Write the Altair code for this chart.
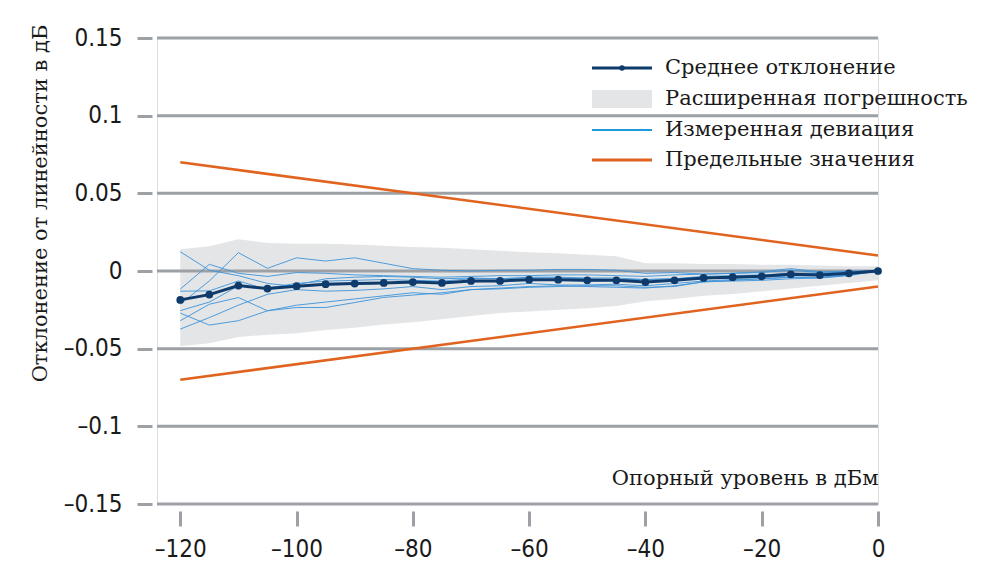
import altair as alt
import pandas as pd

# Reference levels in dBm
ref_level = [-120, -115, -110, -105, -100, -95, -90, -85, -80, -75, -70, -65,
             -60, -55, -50, -45, -40, -35, -30, -25, -20, -15, -10, -5, 0]

# Mean linearity deviation in dB
mean_dev = [-0.0186, -0.0152, -0.0094, -0.0113, -0.0098, -0.0085, -0.0081, -0.0077,
            -0.0071, -0.0077, -0.0064, -0.0064, -0.0056, -0.0056, -0.0060, -0.0060,
            -0.0071, -0.0060, -0.0045, -0.0040, -0.0034, -0.0021, -0.0026, -0.0015, 0.0]

# Expanded uncertainty band (upper / lower edge) in dB
band_hi = [0.0140, 0.0160, 0.0205, 0.0180, 0.0175, 0.0175, 0.0170, 0.0162,
           0.0155, 0.0150, 0.0140, 0.0130, 0.0120, 0.0115, 0.0105, 0.0095,
           0.0050, 0.0050, 0.0045, 0.0045, 0.0040, 0.0040, 0.0035, 0.0030, 0.0030]
band_lo = [-0.0485, -0.0465, -0.0425, -0.0410, -0.0400, -0.0380, -0.0365, -0.0345,
           -0.0330, -0.0310, -0.0290, -0.0270, -0.0260, -0.0250, -0.0240, -0.0225,
           -0.0195, -0.0180, -0.0160, -0.0148, -0.0130, -0.0112, -0.0095, -0.0078, -0.0060]

# Individual measured deviation runs in dB
run_1 = [0.0124, 0.0005, -0.0030, -0.0080, -0.0100, -0.0090, -0.0085, -0.0080, -0.0075,
         -0.0070, -0.0070, -0.0065, -0.0060, -0.0060, -0.0065, -0.0060, -0.0070, -0.0060,
         -0.0050, -0.0045, -0.0040, -0.0030, -0.0030, -0.0020, 0.0]
run_2 = [-0.0117, 0.0043, -0.0015, -0.0035, -0.0010, -0.0015, -0.0025, -0.0030, -0.0035,
         -0.0040, -0.0035, -0.0030, -0.0030, -0.0025, -0.0025, -0.0030, -0.0035, -0.0025,
         -0.0020, -0.0015, -0.0010, 0.0005, -0.0010, 0.0000, 0.0]
run_3 = [-0.0214, -0.0064, 0.0118, 0.0017, 0.0085, 0.0064, 0.0085, 0.0050, 0.0015,
         0.0005, 0.0000, 0.0005, 0.0005, 0.0010, 0.0010, 0.0005, -0.0015, -0.0010,
         -0.0020, -0.0015, -0.0005, 0.0015, -0.0005, -0.0005, 0.0]
run_4 = [-0.0271, -0.0348, -0.0320, -0.0256, -0.0235, -0.0235, -0.0203, -0.0170, -0.0155,
         -0.0140, -0.0120, -0.0115, -0.0105, -0.0100, -0.0095, -0.0095, -0.0105, -0.0100,
         -0.0070, -0.0065, -0.0060, -0.0050, -0.0045, -0.0030, 0.0]
run_5 = [-0.0374, -0.0300, -0.0220, -0.0150, -0.0120, -0.0130, -0.0125, -0.0115, -0.0100,
         -0.0120, -0.0100, -0.0095, -0.0080, -0.0090, -0.0090, -0.0085, -0.0095, -0.0080,
         -0.0065, -0.0055, -0.0050, -0.0040, -0.0040, -0.0025, 0.0]
run_6 = [-0.0320, -0.0214, -0.0171, -0.0256, -0.0220, -0.0200, -0.0180, -0.0160, -0.0140,
         -0.0150, -0.0120, -0.0110, -0.0100, -0.0095, -0.0100, -0.0105, -0.0110, -0.0095,
         -0.0070, -0.0060, -0.0050, -0.0040, -0.0045, -0.0025, 0.0]
run_7 = [-0.0130, -0.0128, -0.0064, -0.0120, -0.0090, -0.0050, -0.0040, -0.0035, -0.0040,
         -0.0050, -0.0045, -0.0050, -0.0045, -0.0045, -0.0050, -0.0055, -0.0055, -0.0050,
         -0.0040, -0.0035, -0.0030, -0.0015, -0.0020, -0.0010, 0.0]
run_8 = [-0.0255, -0.0200, -0.0096, -0.0110, -0.0080, -0.0065, -0.0060, -0.0055, -0.0060,
         -0.0065, -0.0050, -0.0050, -0.0040, -0.0040, -0.0045, -0.0045, -0.0055, -0.0050,
         -0.0035, -0.0030, -0.0025, -0.0015, -0.0015, -0.0005, 0.0]
runs = [run_1, run_2, run_3, run_4, run_5, run_6, run_7, run_8]

# Tolerance limits
limit_level = [-120, 0]
limit_hi = [0.07, 0.01]
limit_lo = [-0.07, -0.01]

y_ticks = [-0.15, -0.1, -0.05, 0, 0.05, 0.1, 0.15]
x_ticks = [-120, -100, -80, -60, -40, -20, 0]

legend_labels = ["Среднее отклонение", "Расширенная погрешность",
                 "Измеренная девиация", "Предельные значения"]

NAVY = "#0f3b6c"
BAND = "#e4e5e7"
BLUE = "#3d93d9"
ORANGE = "#e0631f"
GRID = "#9da0a5"
TEXT = "#1a1a1a"
SERIF = "DejaVu Serif"
SERIF_SIZE = 21
NARROW = "Liberation Sans Narrow, DejaVu Sans Condensed, Liberation Sans"

W, H = 721, 466

mean_df = pd.DataFrame({"level": ref_level, "dev": mean_dev})
band_df = pd.DataFrame({"level": ref_level, "lo": band_lo, "hi": band_hi})
runs_df = pd.DataFrame([
    {"run": i + 1, "level": lv, "dev": v}
    for i, r in enumerate(runs) for lv, v in zip(ref_level, r)
])
limits_df = pd.DataFrame(
    [{"side": "hi", "level": lv, "dev": v} for lv, v in zip(limit_level, limit_hi)]
    + [{"side": "lo", "level": lv, "dev": v} for lv, v in zip(limit_level, limit_lo)]
)
grid_df = pd.DataFrame({"dev": y_ticks})

x_scale = alt.Scale(domain=[-124, 0], nice=False, zero=False)
y_scale = alt.Scale(domain=[-0.15, 0.15], nice=False, zero=False)

x_axis = alt.Axis(
    values=x_ticks, domain=False, grid=False, ticks=True, tickSize=15, tickWidth=3,
    tickColor=GRID, offset=7, labelPadding=11, labelFont=NARROW, labelFontSize=24,
    labelColor=TEXT, labelFlush=False, labelOverlap=False,
    labelExpr="replace(toString(datum.value), '-', '–')",
    title="Опорный уровень в дБм", titleFont=SERIF, titleFontSize=SERIF_SIZE,
    titleFontWeight="normal", titleColor=TEXT, titleX=W, titleY=-33,
    titleAlign="right", titleBaseline="middle", titleAnchor="end",
)
y_axis = alt.Axis(
    values=y_ticks, domain=False, grid=False, ticks=True, tickSize=15, tickWidth=3,
    tickColor=GRID, offset=5, labelPadding=15, labelFont=NARROW, labelFontSize=24,
    labelColor=TEXT, labelFlush=False, labelOverlap=False,
    labelExpr="replace(toString(datum.value), '-', '–')",
    title="Отклонение от линейности в дБ", titleFont=SERIF, titleFontSize=SERIF_SIZE,
    titleFontWeight="normal", titleColor=TEXT, titleAngle=-90,
    titleX=-112, titleY=165, titleAlign="center", titleBaseline="middle",
)

X = alt.X("level:Q", scale=x_scale, axis=x_axis)
Y = alt.Y("dev:Q", scale=y_scale, axis=y_axis)

band = alt.Chart(band_df).mark_area(color=BAND).encode(
    x=X, y=alt.Y("lo:Q", scale=y_scale, axis=y_axis), y2="hi:Q"
)
grid = alt.Chart(grid_df).mark_rule(color=GRID, strokeWidth=3).encode(y=Y)
run_lines = alt.Chart(runs_df).mark_line(color=BLUE, strokeWidth=1, opacity=0.9).encode(
    x=X, y=Y, detail="run:N"
)
limit_lines = alt.Chart(limits_df).mark_line(color=ORANGE, strokeWidth=2.6).encode(
    x=X, y=Y, detail="side:N"
)
mean_line = alt.Chart(mean_df).mark_line(
    color=NAVY, strokeWidth=3,
    point=alt.OverlayMarkDef(color=NAVY, filled=True, size=60, opacity=1),
).encode(x=X, y=Y)

# Legend, drawn in plot pixel space at the top right
one = alt.Data(values=[{}])
lg_x0, lg_x1, lg_tx = 435, 495, 508
rows_y = [30, 61, 92, 122]

lg_mean = alt.Chart(one).mark_rule(color=NAVY, strokeWidth=3).encode(
    x=alt.value(lg_x0), x2=alt.value(lg_x1), y=alt.value(rows_y[0]))
lg_mean_pt = alt.Chart(one).mark_point(color=NAVY, filled=True, size=30, opacity=1).encode(
    x=alt.value((lg_x0 + lg_x1) / 2), y=alt.value(rows_y[0]))
lg_band = alt.Chart(one).mark_rect(color=BAND).encode(
    x=alt.value(lg_x0), x2=alt.value(lg_x1),
    y=alt.value(rows_y[1] - 9), y2=alt.value(rows_y[1] + 9))
lg_run = alt.Chart(one).mark_rule(color="#1f9ad8", strokeWidth=2).encode(
    x=alt.value(lg_x0), x2=alt.value(lg_x1), y=alt.value(rows_y[2]))
lg_lim = alt.Chart(one).mark_rule(color=ORANGE, strokeWidth=3).encode(
    x=alt.value(lg_x0), x2=alt.value(lg_x1), y=alt.value(rows_y[3]))
lg_text = [
    alt.Chart(one).mark_text(
        align="left", baseline="middle", font=SERIF, fontSize=SERIF_SIZE, color=TEXT
    ).encode(x=alt.value(lg_tx), y=alt.value(yy), text=alt.value(lbl))
    for lbl, yy in zip(legend_labels, rows_y)
]

chart = alt.layer(
    band, grid, run_lines, limit_lines, mean_line,
    lg_band, lg_mean, lg_mean_pt, lg_run, lg_lim, *lg_text,
).properties(
    width=W, height=H,
    padding={"left": 157, "top": 38, "right": 1000 - 157 - W, "bottom": 579 - 38 - H},
    autosize="none",
).configure_view(stroke=None).configure(background="white")

chart.save("out.html", embed_options={"renderer": "svg", "actions": False})
